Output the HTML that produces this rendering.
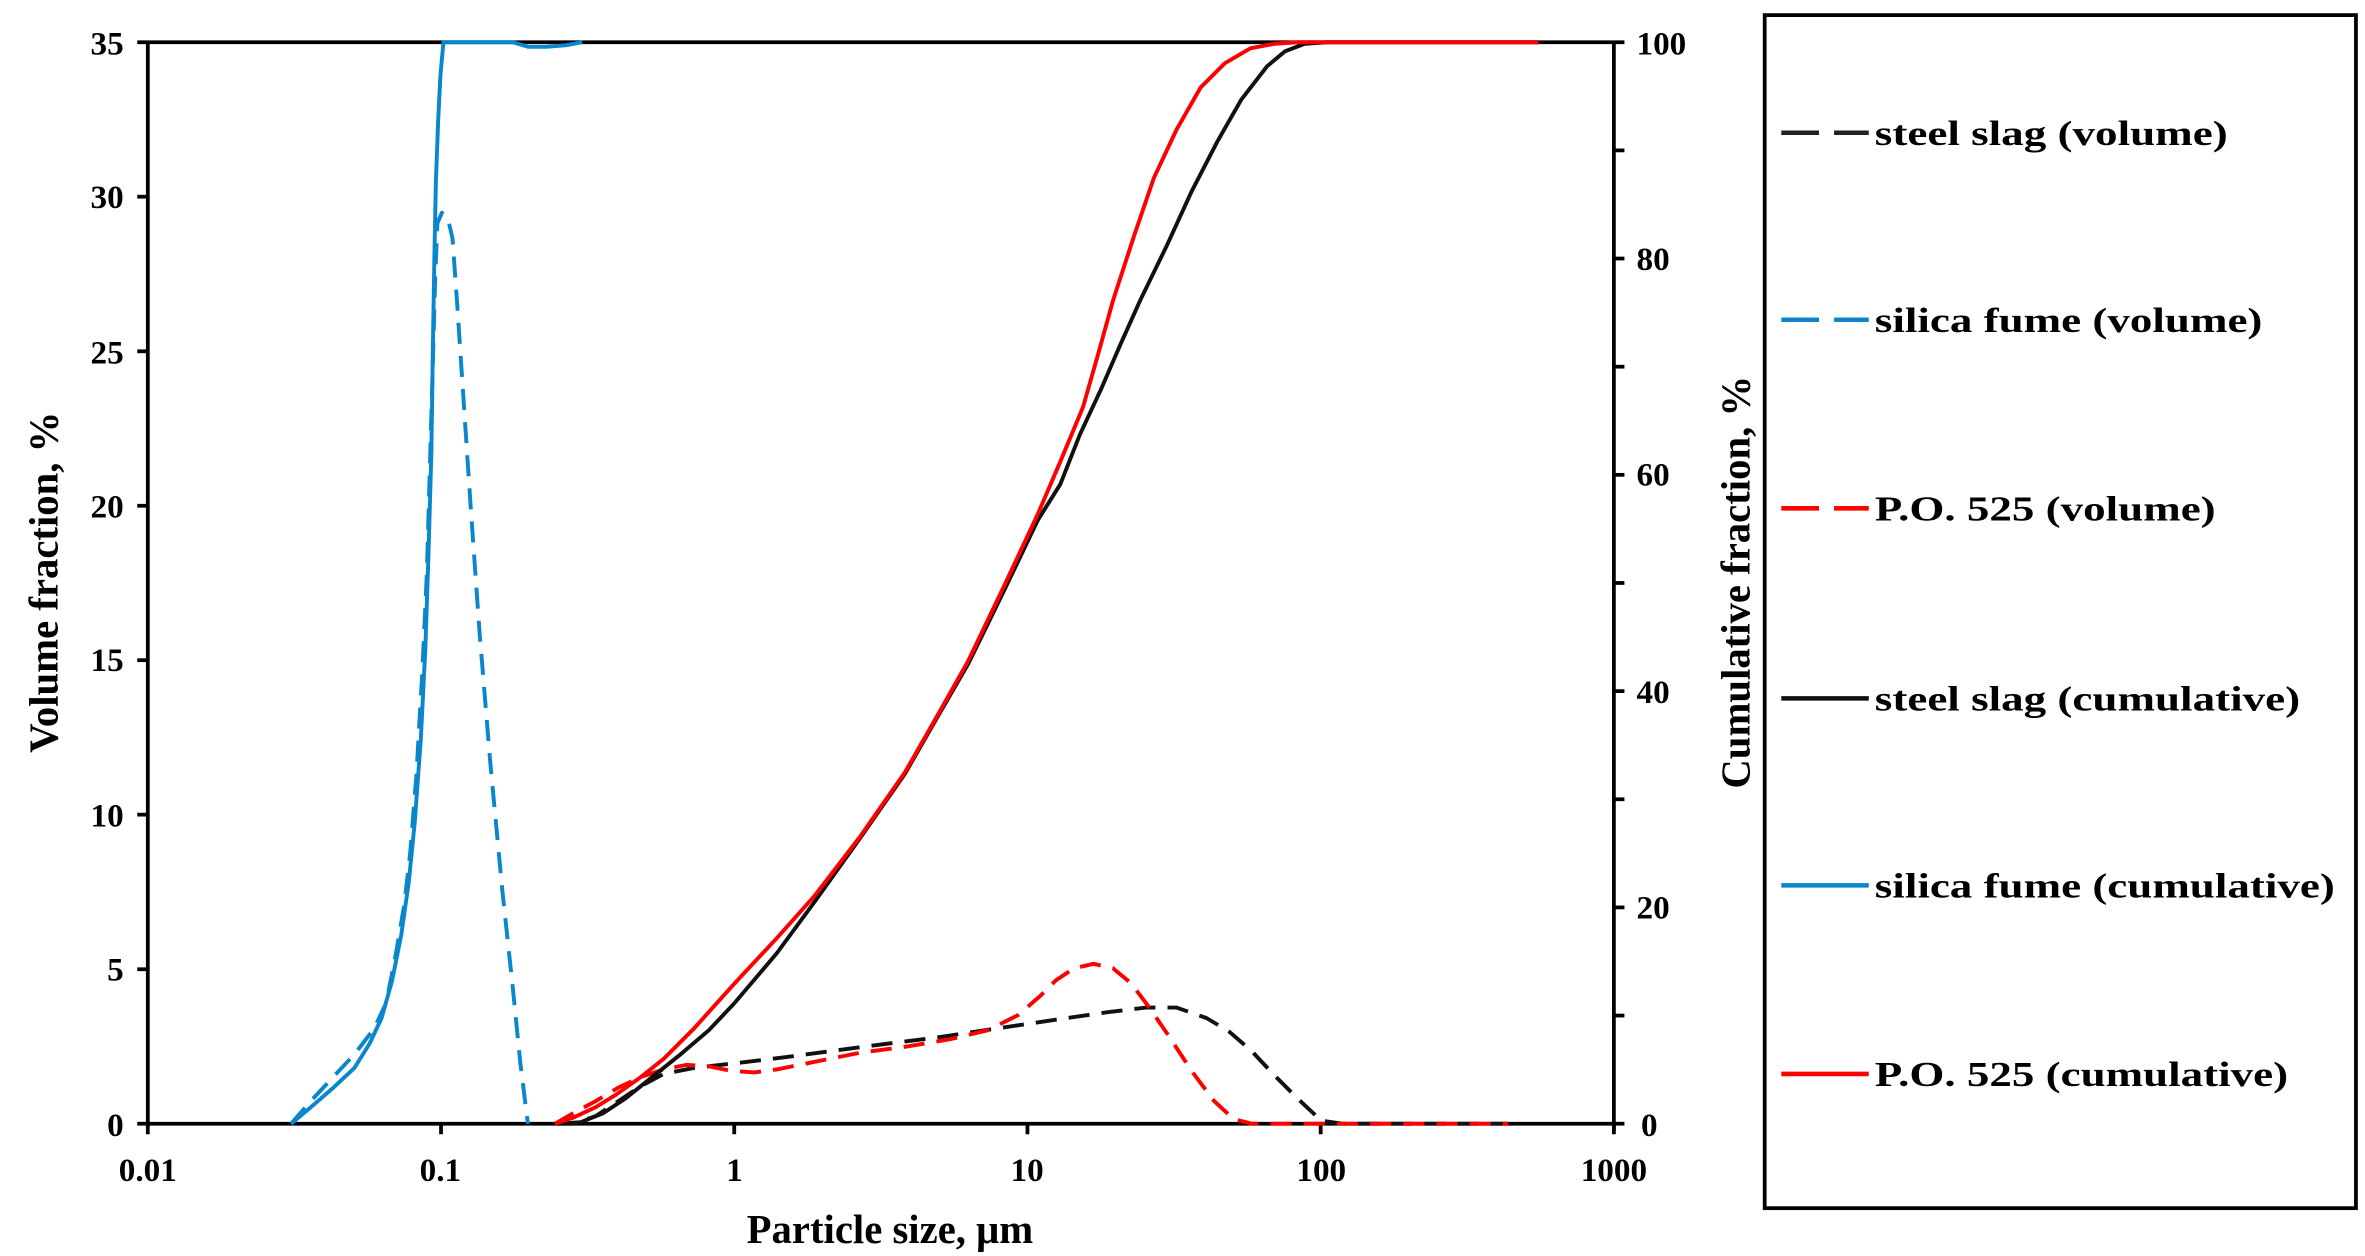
<!DOCTYPE html>
<html><head><meta charset="utf-8"><style>
html,body{margin:0;padding:0;background:#fff;}
svg{display:block;}
text{font-family:"Liberation Serif",serif;font-weight:bold;fill:#000;}
</style></head><body>
<svg width="2365" height="1256" viewBox="0 0 1568 832.7" xmlns="http://www.w3.org/2000/svg">
<rect width="1568" height="833" fill="#fff"/>
<g stroke="#000" stroke-width="2.5" fill="none">
<line x1="98" y1="28" x2="1070" y2="28"/>
<line x1="98" y1="28" x2="98" y2="746"/>
<line x1="1070" y1="28" x2="1070" y2="750"/>
<line x1="97" y1="745" x2="1071" y2="745"/>
<line x1="91" y1="28" x2="98" y2="28"/><line x1="91" y1="130.4" x2="98" y2="130.4"/><line x1="91" y1="232.9" x2="98" y2="232.9"/><line x1="91" y1="335.3" x2="98" y2="335.3"/><line x1="91" y1="437.7" x2="98" y2="437.7"/><line x1="91" y1="540.1" x2="98" y2="540.1"/><line x1="91" y1="642.6" x2="98" y2="642.6"/><line x1="91" y1="745" x2="98" y2="745"/>
<line x1="1070" y1="28" x2="1077" y2="28"/><line x1="1070" y1="99.7" x2="1077" y2="99.7"/><line x1="1070" y1="171.4" x2="1077" y2="171.4"/><line x1="1070" y1="243.1" x2="1077" y2="243.1"/><line x1="1070" y1="314.8" x2="1077" y2="314.8"/><line x1="1070" y1="386.5" x2="1077" y2="386.5"/><line x1="1070" y1="458.2" x2="1077" y2="458.2"/><line x1="1070" y1="529.9" x2="1077" y2="529.9"/><line x1="1070" y1="601.6" x2="1077" y2="601.6"/><line x1="1070" y1="673.3" x2="1077" y2="673.3"/><line x1="1070" y1="745" x2="1077" y2="745"/>
<line x1="98" y1="745" x2="98" y2="752"/><line x1="292.4" y1="745" x2="292.4" y2="752"/><line x1="486.8" y1="745" x2="486.8" y2="752"/><line x1="681.2" y1="745" x2="681.2" y2="752"/><line x1="875.6" y1="745" x2="875.6" y2="752"/><line x1="1070" y1="745" x2="1070" y2="752"/>
</g>
<g font-size="22" text-anchor="end">
<text x="82" y="36">35</text><text x="82" y="138">30</text><text x="82" y="241">25</text><text x="82" y="343">20</text><text x="82" y="445">15</text><text x="82" y="548">10</text><text x="82" y="650">5</text><text x="82" y="753">0</text>
</g>
<g font-size="22" text-anchor="start">
<text x="1085" y="36">100</text><text x="1085" y="179">80</text><text x="1085" y="322">60</text><text x="1085" y="466">40</text><text x="1085" y="609">20</text><text x="1088" y="753">0</text>
</g>
<g font-size="22" text-anchor="middle">
<text x="98" y="783">0.01</text><text x="292" y="783">0.1</text><text x="487" y="783">1</text><text x="681" y="783">10</text><text x="876" y="783">100</text><text x="1070" y="783">1000</text>
</g>
<text x="590" y="824" font-size="27" text-anchor="middle">Particle size, μm</text>
<text transform="translate(38,386) rotate(-90)" font-size="27" text-anchor="middle">Volume fraction, %</text>
<text transform="translate(1160,386) rotate(-90)" font-size="27" text-anchor="middle">Cumulative fraction, %</text>
<g fill="none" stroke-width="2.6" stroke-linejoin="round" stroke-linecap="butt">
<polyline stroke="#0a86cc" stroke-dasharray="14,8" points="193,745 207,729 220,715 235,699 248,682 256,665 262,635 268,600 272,565 276,515 280,445 283,380 285,310 287,240 288.5,185 290,148 293,141 297,145 300,158 303,200 307,260 312,335 318,420 325,505 333,590 340,655 345,705 350,745"/>
<polyline stroke="#0a86cc" points="193,745 205,735 220,722 235,708 245,692 253,675 260,650 266,620 271,585 275,545 279,490 282,430 284,370 286,300 287,230 288,170 289,120 290.5,80 292,50 294,28 300,28 340,28 350,31 362,31 375,30 386,28"/>
<polyline stroke="#111" stroke-dasharray="14,8" points="368,745 380,745 395,740 410,730 425,720 440,712 460,708 487,705 520,701 550,697 580,693 620,688 660,682 700,676 735,671 760,668 780,668 800,675 815,684 830,697 845,713 860,728 876,743 890,745 1000,745"/>
<polyline stroke="#f00" stroke-dasharray="14,8" points="368,745 380,738 395,730 410,721 425,714 440,709 455,706 470,707 485,710 500,711 515,709 540,704 570,698 600,694 630,689 655,683 675,673 690,660 700,650 712,642 725,639 738,642 750,652 762,668 775,687 790,710 805,730 818,742 830,745 1000,745"/>
<polyline stroke="#111" points="370,745 385,744 400,738 415,728 430,716 450,700 470,683 487,665 515,632 540,598 570,556 600,513 620,478 642,440 665,393 688,345 703,321 716,288 730,258 743,228 756,199 774,162 790,127 807,94 823,66 840,44 852,34 865,29 880,28 1020,28"/>
<polyline stroke="#f00" points="368,745 380,741 395,734 408,726 425,714 440,702 460,682 487,652 515,622 540,594 570,555 600,512 620,477 642,438 665,390 688,341 703,306 718,270 728,235 738,199 752,156 765,118 780,86 796,58 812,42 829,32 845,29 860,28 1020,28"/>
</g>
<rect x="1170" y="10" width="392" height="791" fill="none" stroke="#000" stroke-width="2.5"/>
<g stroke-width="3">
<line x1="1181" y1="88" x2="1239" y2="88" stroke="#222" stroke-dasharray="25,10"/>
<line x1="1181" y1="212" x2="1239" y2="212" stroke="#0a86cc" stroke-dasharray="25,10"/>
<line x1="1181" y1="337" x2="1239" y2="337" stroke="#f00" stroke-dasharray="25,10"/>
<line x1="1181" y1="463" x2="1239" y2="463" stroke="#111"/>
<line x1="1181" y1="587" x2="1239" y2="587" stroke="#0a86cc"/>
<line x1="1181" y1="712" x2="1239" y2="712" stroke="#f00"/>
</g>
<g font-size="23">
<text x="1243" y="96" textLength="234" lengthAdjust="spacingAndGlyphs">steel slag (volume)</text>
<text x="1243" y="220" textLength="257" lengthAdjust="spacingAndGlyphs">silica fume (volume)</text>
<text x="1243" y="345" textLength="226" lengthAdjust="spacingAndGlyphs">P.O. 525 (volume)</text>
<text x="1243" y="471" textLength="282" lengthAdjust="spacingAndGlyphs">steel slag (cumulative)</text>
<text x="1243" y="595" textLength="305" lengthAdjust="spacingAndGlyphs">silica fume (cumulative)</text>
<text x="1243" y="720" textLength="274" lengthAdjust="spacingAndGlyphs">P.O. 525 (cumulative)</text>
</g>
</svg>
</body></html>
